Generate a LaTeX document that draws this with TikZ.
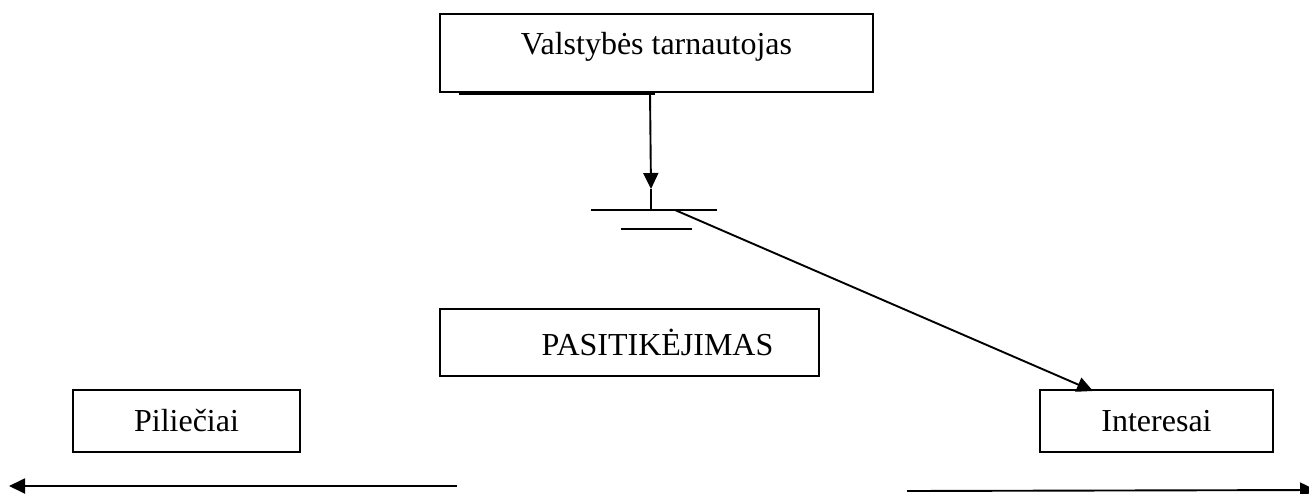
\documentclass[tikz,border=0pt]{standalone}
\usepackage{fontspec}
\setmainfont{Liberation Serif}
\usetikzlibrary{arrows.meta}
\begin{document}
\begin{tikzpicture}[x=1pt,y=-1pt,
  box/.style={draw,line width=2pt,rectangle,inner sep=0pt,
    font=\fontsize{32}{37}\selectfont},
  conn/.style={line width=1.9pt},
  tip/.style={-{Triangle[length=16pt,width=15pt]}}]
\useasboundingbox (0,0) rectangle (1309,493);

% boxes
\node[box,anchor=north west,minimum width=433pt,minimum height=78pt,
  text height=21pt,text depth=19pt,inner ysep=19pt] (valst) at (439,13) {Valstybės tarnautojas};
\node[box,anchor=north west,minimum width=379pt,minimum height=67pt] (pasit) at (439,308) {\hspace*{56pt}PASITIKĖJIMAS};
\node[box,minimum width=227pt,minimum height=62pt] (pil) at (186.5,421) {Piliečiai};
\node[box,minimum width=233pt,minimum height=62pt] (inter) at (1156.5,421) {Interesai};

% stroke under the top box
\coordinate (ul1) at (459,94);
\coordinate (ul2) at (655,94);
\draw[line width=2.8pt] (ul1) -- (ul2);

% bar symbol with arrow from the top box
\coordinate (vtop) at (650,92);
\coordinate (vmid) at (651,189);
\coordinate (vbot) at (651,210);
\draw[conn,tip] (vtop) -- (vmid);
\draw[conn] (vmid) -- (vbot);
\coordinate (b1l) at (591,210);
\coordinate (b1r) at (717,210);
\coordinate (b2l) at (621,229);
\coordinate (b2r) at (692,229);
\draw[conn] (b1l) -- (b1r);
\draw[conn] (b2l) -- (b2r);

% diagonal to Interesai
\coordinate (dstart) at (675,210);
\draw[conn,tip] (dstart) -- (1093,391);

% bottom arrows
\coordinate (la) at (457,486);
\coordinate (lb) at (9,486);
\draw[conn,tip] (la) -- (lb);
\coordinate (ra) at (907,491);
\coordinate (rb) at (1316,490);
\draw[conn,tip] (ra) -- (rb);
\end{tikzpicture}
\end{document}
